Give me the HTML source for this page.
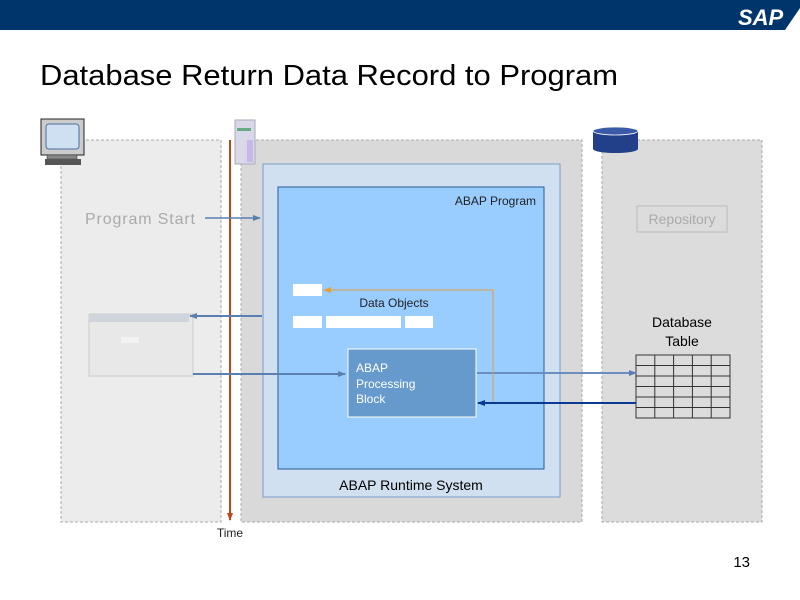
<!DOCTYPE html>
<html><head><meta charset="utf-8"><style>
html,body{margin:0;padding:0;background:#fff;}
svg{display:block;font-family:"Liberation Sans",Arial,sans-serif;}
</style></head><body>
<svg width="800" height="600" viewBox="0 0 800 600" xmlns="http://www.w3.org/2000/svg">
<defs>
<marker id="ab" markerWidth="8" markerHeight="8" refX="7" refY="4" orient="auto" markerUnits="userSpaceOnUse"><path d="M0,1 L8,4 L0,7 Z" fill="#5a7fb0"/></marker>
<marker id="ad" markerWidth="8" markerHeight="8" refX="7" refY="4" orient="auto" markerUnits="userSpaceOnUse"><path d="M0,1 L8,4 L0,7 Z" fill="#0a3a90"/></marker>
<marker id="ao" markerWidth="8" markerHeight="8" refX="7" refY="4" orient="auto" markerUnits="userSpaceOnUse"><path d="M0,1 L8,4 L0,7 Z" fill="#e8a030"/></marker>
<marker id="ar" markerWidth="8" markerHeight="8" refX="7" refY="4" orient="auto" markerUnits="userSpaceOnUse"><path d="M0,1 L8,4 L0,7 Z" fill="#c04818"/></marker>
</defs>
<rect x="0" y="0" width="800" height="30" fill="#00356b"/>
<text x="738" y="25" font-size="22" font-weight="bold" fill="#fff" font-style="italic">SAP</text>
<polygon points="785,30 800,8 800,30" fill="#fff"/>
<text x="40" y="85" font-size="29" fill="#000" textLength="578" lengthAdjust="spacingAndGlyphs">Database Return Data Record to Program</text>

<rect x="61" y="140" width="160" height="382" fill="#ececec" stroke="#aaa" stroke-dasharray="3,2"/>
<rect x="241" y="140" width="341" height="382" fill="#d9d9d9" stroke="#aaa" stroke-dasharray="3,2"/>
<rect x="602" y="140" width="160" height="382" fill="#dcdcdc" stroke="#aaa" stroke-dasharray="3,2"/>

<rect x="41" y="119" width="43" height="36" fill="#ccc" stroke="#222"/>
<rect x="46" y="124" width="33" height="25" rx="3" fill="#cfe0f2" stroke="#4a6fa0"/>
<rect x="47" y="155" width="30" height="4" fill="#888" stroke="#333" stroke-width="0.5"/>
<rect x="45" y="159" width="36" height="6" fill="#555"/>
<rect x="235" y="120" width="20" height="44" fill="#d8d8e8" stroke="#aab" />
<rect x="247" y="140" width="6" height="22" fill="#c8b8e8"/>
<rect x="237" y="128" width="14" height="3" fill="#6a8"/>
<rect x="593" y="131" width="45" height="18" fill="#22408a"/>
<ellipse cx="615.5" cy="149" rx="22.5" ry="4" fill="#22408a"/>
<ellipse cx="615.5" cy="131" rx="22.5" ry="4" fill="#3a5aa8" stroke="#fff" stroke-width="0.8"/>

<text x="85" y="224" font-size="16" fill="#aaa" textLength="110">Program  Start</text>
<rect x="637" y="206" width="90" height="26" fill="none" stroke="#bbb"/>
<text x="682" y="224" font-size="14" fill="#aaa" text-anchor="middle">Repository</text>

<rect x="263" y="164" width="297" height="333" fill="#d0e0f0" stroke="#7a9cc8"/>
<rect x="278" y="187" width="266" height="282" fill="#99ccff" stroke="#2a5a9a"/>
<text x="536" y="205" font-size="12" fill="#222" text-anchor="end">ABAP Program</text>
<text x="411" y="490" font-size="14" fill="#000" text-anchor="middle">ABAP Runtime System</text>

<rect x="293" y="284" width="29" height="12" fill="#fff"/>
<text x="394" y="307" font-size="12" fill="#222" text-anchor="middle">Data Objects</text>
<rect x="293" y="316" width="29" height="12" fill="#fff"/>
<rect x="326" y="316" width="75" height="12" fill="#fff"/>
<rect x="405" y="316" width="28" height="12" fill="#fff"/>

<rect x="348" y="349" width="128" height="68" fill="#6699cc" stroke="#fff"/>
<text x="356" y="372" font-size="12" fill="#fff">ABAP</text>
<text x="356" y="388" font-size="12" fill="#fff">Processing</text>
<text x="356" y="403" font-size="12" fill="#fff">Block</text>

<rect x="89" y="314" width="104" height="62" fill="#e8e8e8" stroke="#ccc"/>
<rect x="89" y="314" width="100" height="8" fill="#d0d4dc"/>
<rect x="121" y="337" width="18" height="6" fill="#f2f2f2"/>

<text font-size="14" text-anchor="middle"><tspan x="682" y="327">Database</tspan><tspan x="682" dy="19">Table</tspan></text>
<g stroke="#333" stroke-width="1" fill="#dcdcdc">
<rect x="636" y="355" width="94" height="63"/>
<path d="M654.8,355V418M673.6,355V418M692.4,355V418M711.2,355V418M636,365.5H730M636,376H730M636,386.5H730M636,397H730M636,407.5H730" fill="none"/>
</g>

<line x1="230" y1="140" x2="230" y2="520" stroke="#c04818" stroke-width="2" marker-end="url(#ar)"/>
<text x="230" y="537" font-size="12" fill="#222" text-anchor="middle">Time</text>

<line x1="205" y1="218" x2="260" y2="218" stroke="#5a7fb0" stroke-width="1.5" marker-end="url(#ab)"/>
<line x1="262" y1="316" x2="190" y2="316" stroke="#5a7fb0" stroke-width="2" marker-end="url(#ab)"/>
<line x1="193" y1="374" x2="345" y2="374" stroke="#5a7fb0" stroke-width="2" marker-end="url(#ab)"/>
<line x1="477" y1="373" x2="636" y2="373" stroke="#6a8ec0" stroke-width="2" marker-end="url(#ab)"/>
<polyline points="493,403 493,290 324,290" fill="none" stroke="#e0a040" stroke-width="1" marker-end="url(#ao)"/>
<line x1="636" y1="403" x2="478" y2="403" stroke="#0a3a90" stroke-width="2" marker-end="url(#ad)"/>

<text x="750" y="567" font-size="15" fill="#000" text-anchor="end">13</text>
</svg>
</body></html>
